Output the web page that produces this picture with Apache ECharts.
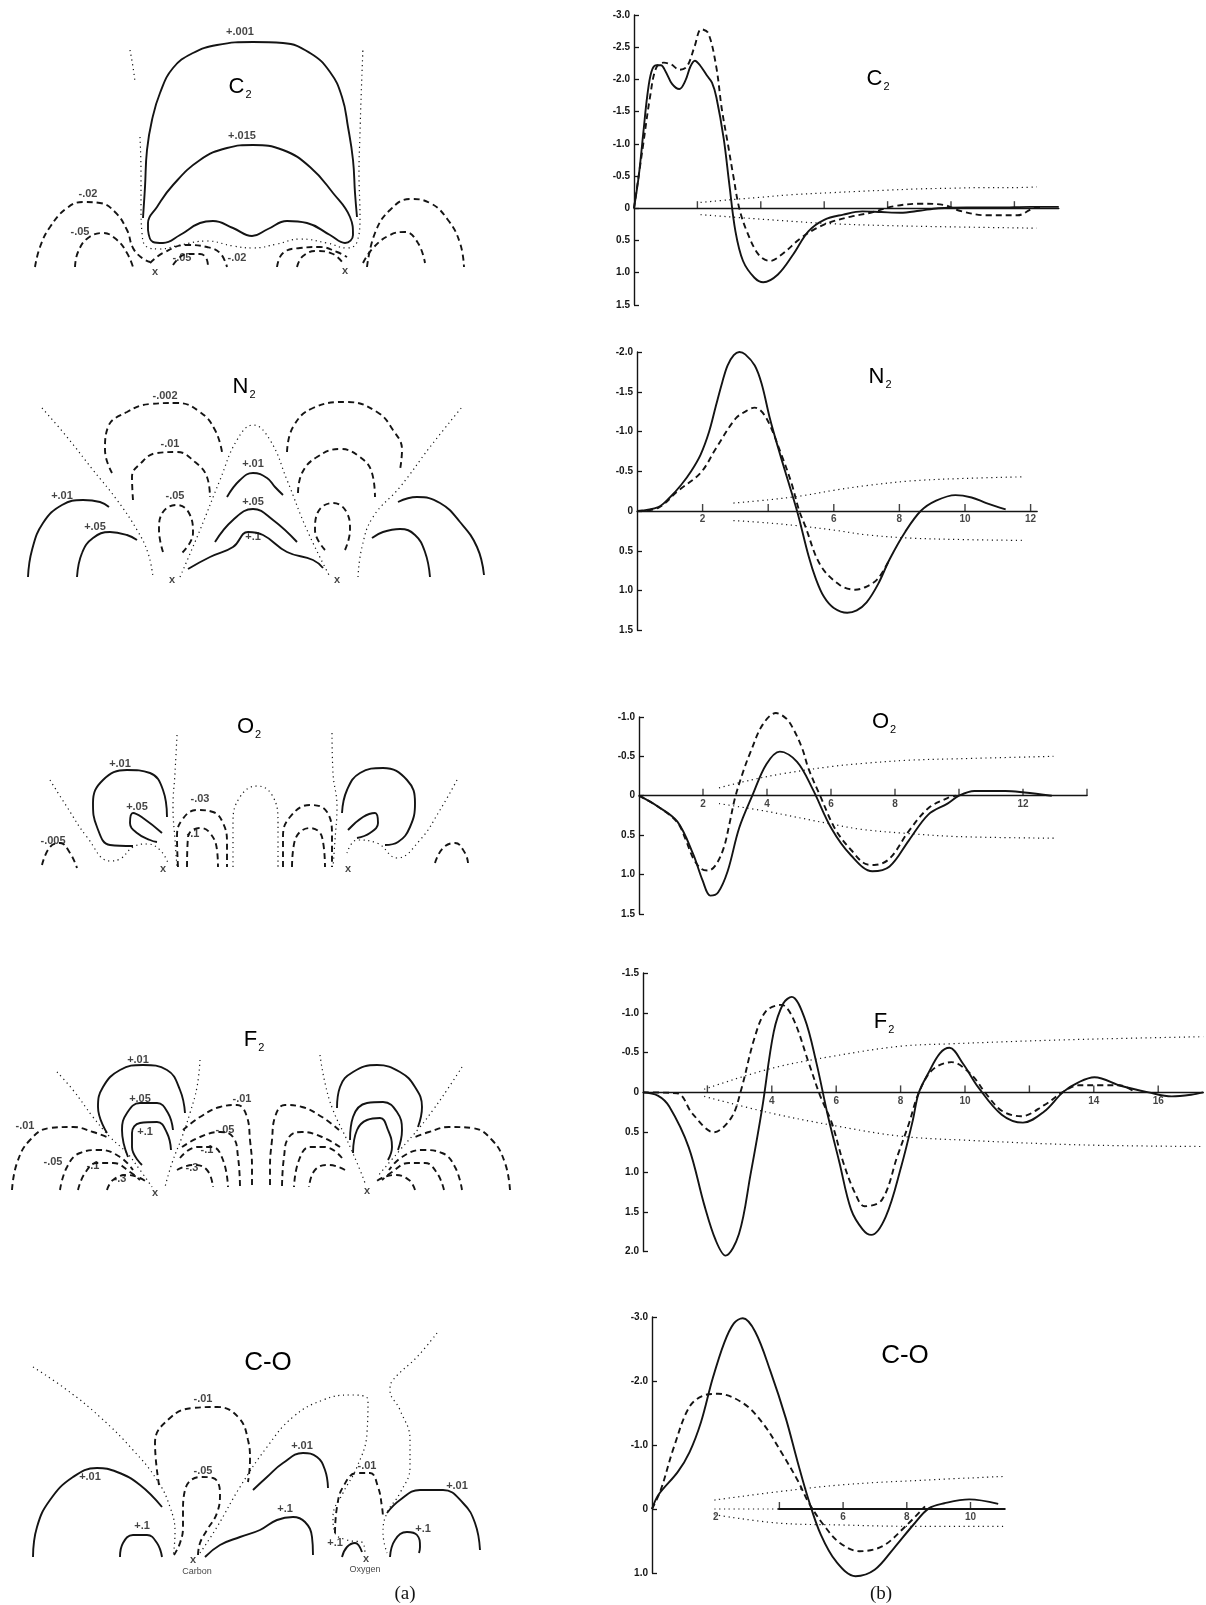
<!DOCTYPE html>
<html>
<head>
<meta charset="utf-8">
<title>Difference density maps and profiles: C2, N2, O2, F2, C-O</title>
<script src="https://cdn.jsdelivr.net/npm/echarts/dist/echarts.min.js"></script>
<style>
html, body { margin: 0; padding: 0; background: #fff; }
#main { width: 1206px; height: 1605px; }
</style>
</head>
<body>
<div id="main"></div>
<script>
// ---- (b) profiles along the bond axis: [r, density] ----
var c2Solid = [[0,0],[0.15,-0.5],[0.3,-1.2],[0.42,-1.75],[0.55,-2.12],[0.7,-2.22],[0.85,-2.22],[1.0,-2.12],[1.2,-1.93],[1.43,-1.85],[1.62,-1.98],[1.78,-2.2],[1.92,-2.29],[2.08,-2.22],[2.3,-2.06],[2.46,-1.95],[2.6,-1.72],[2.83,-1.08],[3.01,-0.36],[3.2,0.36],[3.44,0.82],[3.8,1.08],[4.08,1.15],[4.54,1.03],[5.02,0.72],[5.5,0.36],[6.0,0.18],[6.6,0.1],[7.2,0.05],[7.8,0.06],[8.4,0.07],[9.0,0.04],[9.6,0.0],[10.5,-0.01],[11.5,-0.01],[12.5,-0.02],[13.4,-0.02]];
var c2Dashed = [[0,0],[0.27,-0.92],[0.51,-1.74],[0.7,-2.18],[0.94,-2.26],[1.18,-2.23],[1.43,-2.15],[1.67,-2.2],[1.91,-2.51],[2.12,-2.78],[2.34,-2.72],[2.59,-2.21],[2.77,-1.54],[2.95,-1.03],[3.13,-0.51],[3.32,0],[3.56,0.36],[3.93,0.72],[4.29,0.82],[4.66,0.72],[5.27,0.46],[5.76,0.31],[6.24,0.21],[6.85,0.13],[7.46,0.07],[8.2,-0.03],[9.05,-0.07],[9.78,-0.05],[10.27,0.04],[11.12,0.11],[12.1,0.11],[12.6,0.0],[12.9,-0.02]];
var c2DotUpper = [[2.1,-0.09],[3,-0.13],[4,-0.17],[5,-0.21],[6.2,-0.24],[7,-0.26],[8,-0.28],[9,-0.3],[10,-0.31],[11,-0.32],[12,-0.32],[12.7,-0.33]];
var c2DotLower = [[2.1,0.1],[4,0.17],[6.2,0.24],[8,0.27],[10,0.29],[12.7,0.31]];

var n2Solid = [[0,0],[0.65,-0.05],[1.0,-0.17],[1.35,-0.33],[1.65,-0.5],[1.94,-0.71],[2.2,-1.0],[2.41,-1.33],[2.6,-1.62],[2.76,-1.83],[2.95,-1.96],[3.12,-2.0],[3.3,-1.97],[3.59,-1.83],[3.8,-1.6],[4.06,-1.15],[4.3,-0.8],[4.53,-0.48],[4.88,0.0],[5.24,0.58],[5.45,0.85],[5.7,1.08],[6.0,1.22],[6.41,1.28],[6.7,1.25],[7.0,1.15],[7.35,0.92],[7.71,0.6],[8.18,0.26],[8.65,0.0],[9.12,-0.13],[9.71,-0.2],[10.2,-0.17],[10.65,-0.1],[11.24,-0.02]];
var n2Dashed = [[0,0],[0.65,-0.04],[1.24,-0.25],[1.94,-0.48],[2.41,-0.79],[3.0,-1.16],[3.3,-1.25],[3.59,-1.3],[3.94,-1.17],[4.41,-0.7],[4.71,-0.35],[4.94,-0.01],[5.12,0.18],[5.59,0.68],[6.18,0.93],[6.65,0.99],[7.0,0.95],[7.35,0.85],[7.71,0.6]];
var n2DotUpper = [[2.94,-0.1],[4,-0.14],[5,-0.19],[6,-0.26],[7,-0.32],[8.4,-0.38],[10,-0.41],[11.8,-0.43]];
var n2DotLower = [[2.94,0.12],[4,0.15],[5,0.19],[6,0.24],[7,0.3],[8.3,0.34],[10,0.36],[11.8,0.37]];

var o2Solid = [[0,0],[0.6,0.14],[1.2,0.33],[1.69,0.74],[1.99,1.08],[2.23,1.27],[2.47,1.23],[2.77,0.96],[3.13,0.41],[3.55,-0.01],[3.98,-0.4],[4.4,-0.56],[4.94,-0.43],[5.42,-0.09],[6.02,0.42],[6.63,0.76],[7.29,0.96],[7.83,0.9],[8.43,0.57],[9.04,0.24],[9.64,0.1],[10.0,0.0],[10.48,-0.06],[11.45,-0.06],[12.05,-0.04],[12.9,0]];
var o2Dashed = [[0,0],[0.6,0.14],[1.2,0.34],[1.45,0.55],[1.7,0.8],[1.95,0.93],[2.17,0.95],[2.4,0.88],[2.65,0.66],[2.83,0.35],[3.0,0.03],[3.25,-0.3],[3.49,-0.56],[3.86,-0.9],[4.28,-1.05],[4.6,-0.98],[4.82,-0.85],[5.1,-0.6],[5.3,-0.34],[5.66,0.0],[6.14,0.43],[6.63,0.69],[7.1,0.87],[7.35,0.88],[7.83,0.8],[8.43,0.45],[9.04,0.16],[9.64,0.03],[9.9,0.0]];
var o2DotUpper = [[2.5,-0.1],[3.5,-0.2],[4.5,-0.28],[6,-0.37],[7,-0.41],[8.4,-0.45],[10,-0.47],[12.95,-0.5]];
var o2DotLower = [[2.5,0.1],[4,0.2],[6,0.36],[7,0.43],[8.4,0.48],[10,0.52],[13,0.54]];

var f2Solid = [[0,0],[0.46,0.04],[0.82,0.18],[1.42,0.69],[1.9,1.41],[2.26,1.86],[2.56,2.05],[2.98,1.78],[3.34,1.03],[3.7,0.2],[4.06,-0.76],[4.36,-1.12],[4.62,-1.2],[5.02,-0.93],[5.38,-0.38],[5.74,0.29],[6.1,0.88],[6.46,1.47],[6.82,1.72],[7.09,1.79],[7.54,1.56],[8.02,0.93],[8.38,0.35],[8.56,0.01],[8.86,-0.24],[9.22,-0.49],[9.52,-0.56],[9.94,-0.36],[10.42,-0.06],[11.14,0.28],[11.8,0.38],[12.46,0.24],[13.06,-0.01],[13.54,-0.13],[14.02,-0.19],[14.86,-0.08],[15.7,0.0],[16.42,0.05],[17.02,0.03],[17.4,0]];
var f2Dashed = [[0,0],[1.06,0.01],[1.54,0.27],[2.2,0.5],[2.74,0.32],[3.04,-0.02],[3.46,-0.68],[3.82,-1.02],[4.3,-1.1],[4.66,-0.93],[5.14,-0.38],[5.5,0.04],[5.86,0.38],[6.22,0.88],[6.58,1.26],[6.88,1.43],[7.42,1.35],[7.9,0.8],[8.26,0.39],[8.56,0.01],[8.98,-0.28],[9.58,-0.38],[10.18,-0.23],[10.66,0.02],[11.14,0.23],[11.74,0.3],[12.46,0.16],[13.06,-0.01],[13.54,-0.09],[14.26,-0.09],[14.8,-0.09],[15.22,-0.02]];
var f2DotUpper = [[1.9,-0.04],[3.97,-0.3],[5.98,-0.46],[7.99,-0.58],[9.52,-0.61],[13.06,-0.66],[17.4,-0.7]];
var f2DotLower = [[1.9,0.05],[3.97,0.26],[5.98,0.42],[7.99,0.55],[9.98,0.6],[13.66,0.66],[17.4,0.68]];

var coSolid = [[0,0],[0.2,-0.22],[0.81,-0.58],[1.18,-0.89],[1.54,-1.36],[1.9,-2.03],[2.27,-2.6],[2.57,-2.9],[2.85,-2.98],[3.24,-2.77],[3.72,-2.15],[4.2,-1.42],[4.57,-0.74],[4.93,-0.12],[5.3,0.4],[5.78,0.82],[6.39,1.05],[6.99,0.95],[7.6,0.61],[8.2,0.25],[8.69,-0.01],[9.18,-0.09],[9.96,-0.15],[10.87,-0.08]];
var coDashed = [[0,0],[0.27,-0.29],[0.69,-0.97],[1.18,-1.6],[1.66,-1.78],[2.08,-1.8],[2.87,-1.65],[3.48,-1.34],[4.08,-0.87],[4.57,-0.45],[4.93,-0.09],[5.42,0.27],[5.9,0.53],[6.51,0.66],[7.24,0.58],[7.96,0.27],[8.57,-0.04]];
var coDotUpper = [[1.96,-0.14],[3.96,-0.27],[6.02,-0.38],[8.5,-0.45],[11.1,-0.51]];
var coDotLower = [[1.96,0.09],[3.96,0.22],[6,0.25],[7.96,0.27],[11.1,0.27]];
var coAxisSolid = [[3.96,0],[11.1,0]];
var coAxisDotted = [[1.96,0],[3.96,0]];

// tick marks and labelled ticks on each r axis
var c2Ticks = [2, 4, 6, 8, 10, 12];
var c2TickLabels = [];
var n2Ticks = [2, 4, 6, 8, 10, 12];
var n2TickLabels = [2, 6, 8, 10, 12];
var o2Ticks = [2, 4, 6, 8, 10, 12, 14];
var o2TickLabels = [2, 4, 6, 8, 12];
var f2Ticks = [2, 4, 6, 8, 10, 12, 14, 16];
var f2TickLabels = [4, 6, 8, 10, 14, 16];
var coTicks = [4, 6, 8, 10];
var coTickLabels = [2, 6, 8, 10];

// ---- (a) contour maps, local coordinates (origin at bond midpoint, y up) ----
var c2Plus001 = [[-107,50],[-105,81],[-103,118],[-98,148],[-90,175],[-77,200],[-57,215],[-33,223],[3,226],[33,225],[60,215],[80,196],[92,171],[98,141],[103,108],[105,75],[107,51]];
var c2Plus015 = [[-102,38],[-97,26],[-87,25],[-70,33],[-50,45],[-37,47],[-17,40],[2,32],[18,39],[37,47],[57,45],[80,33],[95,25],[103,33],[100,51],[83,75],[60,101],[33,118],[3,123],[-23,120],[-50,108],[-77,83],[-93,61],[-102,45],[-102,38]];
var c2ZeroTop = [[-120,218],[-117,201],[-115,186]];
var c2Zero = [[-110,131],[-109,95],[-109,61],[-108,35],[-103,21],[-90,19],[-70,23],[-43,27],[-17,22],[3,20],[27,24],[50,29],[77,25],[97,20],[107,26],[110,51],[109,95],[110,135],[111,168],[113,221]];
var c2MinusL02 = [[-215,1],[-210,21],[-200,41],[-183,60],[-167,66],[-150,65],[-135,56],[-123,38],[-117,20],[-108,10],[-100,6]];
var c2MinusL05 = [[-175,1],[-172,16],[-162,30],[-147,35],[-133,28],[-123,15],[-117,1]];
var c2MinusC02L = [[-100,5],[-87,15],[-63,23],[-43,21],[-30,15],[-23,1]];
var c2MinusC05L = [[-77,3],[-63,14],[-50,14],[-43,8],[-42,1]];
var c2MinusC02R = [[27,1],[33,15],[50,20],[70,21],[87,16],[97,11]];
var c2MinusC05R = [[47,1],[53,12],[67,17],[83,14],[93,5]];
var c2MinusR02 = [[117,1],[125,35],[140,58],[160,69],[180,65],[198,48],[210,25],[214,1]];
var c2MinusR05 = [[113,5],[123,20],[140,33],[155,36],[168,25],[175,5]];
var c2Labels = [['+.001',-10,236],['+.015',-8,132],['-.02',-162,74],['-.05',-170,36],['-.05',-68,10],['-.02',-13,10],['x',-95,-4],['x',95,-3]];

var n2ZeroL = [[-213,169],[-188,140],[-162,107],[-138,77],[-118,47],[-107,24],[-102,0]];
var n2ZeroC = [[-75,0],[-55,47],[-35,97],[-18,137],[-2,152],[15,137],[32,97],[52,47],[75,0]];
var n2ZeroR = [[103,0],[107,30],[118,60],[145,90],[175,130],[207,170]];
var n2Minus002L = [[-143,104],[-150,127],[-147,150],[-128,165],[-105,173],[-78,174],[-55,165],[-40,147],[-33,125]];
var n2Minus002R = [[32,125],[38,150],[58,169],[92,175],[122,165],[138,147],[147,127],[145,107]];
var n2Minus01L = [[-122,77],[-123,100],[-115,113],[-98,124],[-78,125],[-60,115],[-48,100],[-45,80]];
var n2Minus01R = [[43,84],[47,104],[62,120],[85,128],[105,120],[117,104],[120,80]];
var n2Minus05L = [[-92,25],[-96,47],[-92,65],[-78,72],[-65,62],[-62,44],[-73,24]];
var n2Minus05R = [[70,27],[60,47],[63,65],[78,74],[92,64],[95,47],[90,27]];
var n2Plus01L = [[-227,0],[-223,27],[-212,54],[-193,72],[-172,77],[-155,75],[-146,70]];
var n2Plus05L = [[-178,0],[-173,24],[-162,39],[-145,45],[-128,42],[-118,37]];
var n2Plus01C = [[-28,80],[-15,97],[-2,104],[12,99],[20,90],[28,82]];
var n2Plus05C = [[-40,35],[-22,57],[-2,68],[18,57],[42,35]];
var n2Plus1C = [[-67,8],[-45,20],[-22,30],[-7,45],[8,42],[32,25],[58,17],[68,9]];
var n2Plus01R = [[143,75],[162,80],[185,74],[205,55],[222,30],[229,2]];
var n2Plus05R = [[117,39],[128,45],[145,48],[160,42],[170,25],[175,0]];
var n2Labels = [['-.002',-90,181],['-.01',-85,133],['+.01',-2,113],['-.05',-80,81],['+.05',-2,75],['+.1',-2,40],['+.01',-193,81],['+.05',-160,50],['x',-83,-3],['x',82,-3]];

var o2ZeroL = [[-206,87],[-189,60],[-169,30],[-146,6],[-136,8],[-123,20],[-109,23],[-96,17],[-88,4]];
var o2ZeroLV = [[-79,132],[-81,94],[-83,60],[-81,27],[-79,0]];
var o2ZeroC = [[-23,0],[-23,44],[-16,70],[1,81],[16,72],[22,44],[22,0]];
var o2ZeroRV = [[76,134],[77,94],[81,60],[79,27],[77,0]];
var o2ZeroR = [[201,87],[184,57],[164,27],[141,9],[121,24],[101,27],[91,14]];
var o2Plus01L = [[-89,50],[-93,77],[-106,94],[-129,97],[-153,87],[-163,64],[-159,40],[-146,22],[-123,21]];
var o2Plus05L = [[-94,34],[-113,49],[-123,54],[-126,44],[-119,34],[-106,27],[-99,25]];
var o2Plus01R = [[86,54],[91,77],[104,94],[127,99],[151,87],[159,64],[154,40],[142,25],[129,22]];
var o2Plus05R = [[92,37],[107,50],[119,54],[122,44],[114,34],[101,29]];
var o2Minus005L = [[-214,2],[-206,20],[-196,24],[-186,14],[-179,-1]];
var o2Minus03L = [[-78,0],[-79,30],[-74,47],[-59,57],[-43,55],[-33,44],[-29,24],[-29,0]];
var o2Minus1L = [[-69,0],[-68,30],[-56,39],[-46,34],[-39,17],[-38,0]];
var o2Minus03R = [[27,0],[27,30],[34,50],[54,62],[71,55],[76,30],[76,0]];
var o2Minus1R = [[36,0],[39,27],[54,39],[66,30],[69,0]];
var o2Minus005R = [[179,4],[187,19],[199,24],[209,14],[212,4]];
var o2Labels = [['+.01',-136,103],['+.05',-119,60],['-.03',-56,68],['-.1',-63,33],['-.005',-203,26],['x',-93,-2],['x',92,-2]];

var f2Plus01L = [[-154,57],[-163,83],[-158,103],[-141,120],[-118,125],[-94,120],[-81,100],[-76,77]];
var f2Plus05L = [[-133,33],[-139,60],[-134,77],[-121,87],[-104,87],[-93,77],[-88,60]];
var f2Plus1L = [[-119,25],[-129,43],[-129,57],[-121,67],[-104,68],[-94,57],[-90,40]];
var f2Plus01R = [[76,82],[79,103],[92,118],[116,125],[139,118],[154,103],[161,83],[157,63]];
var f2Plus05R = [[89,50],[92,73],[106,87],[122,88],[136,78],[141,60],[137,40]];
var f2Plus1R = [[92,37],[96,60],[106,70],[119,72],[127,60],[131,43],[127,30]];
var f2ZeroL = [[-204,118],[-188,100],[-168,73],[-151,53],[-134,37],[-121,20],[-109,3]];
var f2ZeroCL = [[-61,130],[-64,103],[-71,77],[-79,53],[-89,27],[-96,3]];
var f2ZeroCR = [[59,135],[64,107],[72,80],[86,50],[99,20],[104,7]];
var f2ZeroR = [[201,123],[186,100],[172,80],[159,63],[139,40],[116,13]];
var f2Minus01L = [[-249,0],[-244,27],[-231,50],[-211,62],[-188,63],[-168,58],[-154,53]];
var f2Minus05L = [[-201,0],[-194,23],[-181,37],[-161,40],[-141,33],[-128,20]];
var f2Minus1L = [[-183,0],[-176,17],[-164,27],[-148,27],[-131,18],[-121,10]];
var f2Minus3L = [[-154,0],[-148,10],[-134,15],[-121,12],[-113,7]];
var f2Minus01C = [[-78,60],[-61,73],[-41,83],[-24,85],[-14,73],[-11,50],[-9,23],[-9,3]];
var f2Minus05C = [[-79,43],[-61,53],[-41,58],[-28,53],[-23,33],[-21,3]];
var f2Minus1C = [[-81,32],[-64,43],[-49,43],[-38,30],[-33,3]];
var f2Minus3C = [[-84,20],[-68,25],[-54,20],[-48,3]];
var f2Labels = [['+.01',-123,130],['+.05',-121,91],['+.1',-116,58],['-.01',-236,64],['-.05',-208,28],['-.1',-168,24],['-.3',-141,11],['-.01',-19,91],['-.05',-36,60],['-.1',-54,40],['-.3',-69,22],['x',-106,-3],['x',106,-1]];

var coZeroL = [[-247,190],[-213,167],[-180,140],[-147,107],[-123,77],[-110,50],[-105,24],[-107,0]];
var coZeroC = [[-80,4],[-63,30],[-40,70],[-13,110],[13,140],[43,157],[70,162],[88,157],[87,124],[77,90],[63,64],[53,40],[55,24],[67,17],[83,14],[85,2]];
var coZeroR = [[157,224],[137,200],[113,177],[110,167],[120,147],[130,117],[130,90],[120,64],[107,44],[103,24],[107,4]];
var coPlus01L = [[-247,0],[-243,30],[-230,57],[-207,80],[-183,89],[-163,85],[-140,72],[-118,50]];
var coPlus1L = [[-160,0],[-157,14],[-147,22],[-133,22],[-123,14],[-118,0]];
var coPlus01C = [[-27,67],[-13,80],[3,94],[23,104],[37,100],[45,87],[48,69]];
var coPlus1C = [[-75,0],[-60,12],[-40,20],[-20,27],[-3,37],[13,40],[25,35],[32,20],[33,2]];
var coPlus1O = [[62,0],[67,10],[75,14],[82,5]];
var coPlus01R = [[107,44],[120,57],[140,67],[163,67],[183,54],[195,34],[200,7]];
var coPlus1R = [[110,0],[115,17],[127,25],[137,22],[140,10],[139,4]];
var coMinus01C = [[-121,72],[-125,114],[-110,139],[-87,149],[-63,150],[-42,140],[-32,117],[-30,97],[-32,75]];
var coMinus05 = [[-106,2],[-100,14],[-97,30],[-97,44],[-95,67],[-80,80],[-67,79],[-60,64],[-63,44],[-73,27],[-80,14],[-82,2]];
var coMinus01O = [[55,24],[57,50],[63,70],[77,84],[90,84],[98,70],[102,50],[103,40]];
var coLabels = [['-.01',-77,158],['+.01',-190,80],['-.05',-77,86],['+.01',22,111],['-.01',87,91],['+.01',177,71],['+.1',-138,31],['+.1',5,48],['+.1',55,14],['+.1',143,28],['x',-87,-3],['x',86,-2],['Carbon',-83,-15,9],['Oxygen',85,-13,9]];

// ---------------------------------------------------------------
var INK = '#141414';
var FONT = '"Liberation Sans", Arial, sans-serif';
var styles = {
    solid: { color: INK, width: 1.9, type: 'solid' },
    dashed: { color: INK, width: 1.9, type: [6, 4] },
    dotted: { color: INK, width: 1.2, type: [1.2, 3.6] }
};

var grids = [], xAxes = [], yAxes = [], series = [];

function mirror(pts) {
    return pts.map(function (p) { return [-p[0], p[1]]; });
}

function curve(i, data, kind, smooth) {
    return {
        type: 'line', xAxisIndex: i, yAxisIndex: i, data: data,
        smooth: smooth, symbol: 'none', clip: false, silent: true,
        lineStyle: styles[kind], animation: false
    };
}

function labelSeries(i, labels) {
    return {
        type: 'scatter', xAxisIndex: i, yAxisIndex: i, symbolSize: 1, clip: false, silent: true,
        itemStyle: { color: 'rgba(0,0,0,0)' }, animation: false,
        data: labels.map(function (l) {
            var d = { name: l[0], value: [l[1], l[2]] };
            if (l[3]) d.label = { fontSize: l[3], fontWeight: 'normal' };
            return d;
        }),
        label: {
            show: true, position: 'inside', color: INK, fontSize: 11, fontWeight: 'bold',
            fontFamily: FONT, formatter: function (p) { return p.name; }
        }
    };
}

// tick marks standing on the zero line, and their numbers underneath
function tickSeries(i, ticks, labels) {
    return [{
        type: 'scatter', xAxisIndex: i, yAxisIndex: i, silent: true, clip: false, animation: false,
        symbol: 'rect', symbolSize: [1.4, 7], symbolOffset: [0, -3.5],
        itemStyle: { color: INK },
        data: ticks.map(function (v) { return [v, 0]; })
    }, {
        type: 'scatter', xAxisIndex: i, yAxisIndex: i, silent: true, clip: false, animation: false,
        symbolSize: 1, itemStyle: { color: 'rgba(0,0,0,0)' },
        data: labels.map(function (v) { return { name: String(v), value: [v, 0] }; }),
        label: {
            show: true, position: 'bottom', distance: 3, color: INK, fontSize: 10,
            fontWeight: 'bold', fontFamily: FONT, formatter: function (p) { return p.name; }
        }
    }];
}

// left column: one hidden grid per map, 1 unit = 1 px
function addMap(cx, by, lines, labels) {
    var i = grids.length;
    grids.push({ left: cx - 250, top: by - 260, width: 500, height: 280 });
    xAxes.push({ gridIndex: i, type: 'value', min: -250, max: 250, show: false });
    yAxes.push({ gridIndex: i, type: 'value', min: -20, max: 260, show: false });
    lines.forEach(function (l) { series.push(curve(i, l[1], l[0], 0.45)); });
    series.push(labelSeries(i, labels));
}

// right column: one grid per profile
function addProfile(p) {
    var i = grids.length;
    grids.push({
        left: p.left, top: p.top,
        width: p.xMax * p.xScale, height: (p.yMax - p.yMin) * p.yScale
    });
    xAxes.push({
        gridIndex: i, type: 'value', min: 0, max: p.xMax, interval: 2,
        axisLine: { show: p.axisLine !== false, onZero: true, lineStyle: { color: INK, width: 1.4 } },
        axisTick: { show: false },
        axisLabel: { show: false },
        splitLine: { show: false }
    });
    yAxes.push({
        gridIndex: i, type: 'value', inverse: true, min: p.yMin, max: p.yMax, interval: p.yStep,
        axisLine: { show: true, onZero: true, lineStyle: { color: INK, width: 1.4 } },
        axisTick: { show: true, inside: true, length: 5, lineStyle: { color: INK, width: 1.3 } },
        axisLabel: {
            margin: 4, fontSize: 10, fontWeight: 'bold', color: INK, fontFamily: FONT,
            formatter: function (v) { return Math.abs(v) < 1e-9 ? '0' : v.toFixed(1); }
        },
        splitLine: { show: false }
    });
    p.lines.forEach(function (l) { series.push(curve(i, l[1], l[0], 0.35)); });
    tickSeries(i, p.ticks, p.tickLabels).forEach(function (s) { series.push(s); });
}

addMap(250, 268, [
    ['solid', c2Plus001], ['solid', c2Plus015],
    ['dotted', c2ZeroTop], ['dotted', c2Zero],
    ['dashed', c2MinusL02], ['dashed', c2MinusL05], ['dashed', c2MinusC02L], ['dashed', c2MinusC05L],
    ['dashed', c2MinusC02R], ['dashed', c2MinusC05R], ['dashed', c2MinusR02], ['dashed', c2MinusR05]
], c2Labels);

addMap(255, 577, [
    ['dotted', n2ZeroL], ['dotted', n2ZeroC], ['dotted', n2ZeroR],
    ['dashed', n2Minus002L], ['dashed', n2Minus002R], ['dashed', n2Minus01L], ['dashed', n2Minus01R],
    ['dashed', n2Minus05L], ['dashed', n2Minus05R],
    ['solid', n2Plus01L], ['solid', n2Plus05L], ['solid', n2Plus01C], ['solid', n2Plus05C],
    ['solid', n2Plus1C], ['solid', n2Plus01R], ['solid', n2Plus05R]
], n2Labels);

addMap(256, 867, [
    ['dotted', o2ZeroL], ['dotted', o2ZeroLV], ['dotted', o2ZeroC], ['dotted', o2ZeroRV], ['dotted', o2ZeroR],
    ['solid', o2Plus01L], ['solid', o2Plus05L], ['solid', o2Plus01R], ['solid', o2Plus05R],
    ['dashed', o2Minus005L], ['dashed', o2Minus03L], ['dashed', o2Minus1L],
    ['dashed', o2Minus03R], ['dashed', o2Minus1R], ['dashed', o2Minus005R]
], o2Labels);

var f2DashedLeft = [f2Minus01L, f2Minus05L, f2Minus1L, f2Minus3L, f2Minus01C, f2Minus05C, f2Minus1C, f2Minus3C];
var f2Lines = [
    ['solid', f2Plus01L], ['solid', f2Plus05L], ['solid', f2Plus1L],
    ['solid', f2Plus01R], ['solid', f2Plus05R], ['solid', f2Plus1R],
    ['dotted', f2ZeroL], ['dotted', f2ZeroCL], ['dotted', f2ZeroCR], ['dotted', f2ZeroR]
];
f2DashedLeft.forEach(function (c) {
    f2Lines.push(['dashed', c]);
    f2Lines.push(['dashed', mirror(c)]);
});
addMap(261, 1190, f2Lines, f2Labels);

addMap(280, 1557, [
    ['dotted', coZeroL], ['dotted', coZeroC], ['dotted', coZeroR],
    ['solid', coPlus01L], ['solid', coPlus1L], ['solid', coPlus01C], ['solid', coPlus1C],
    ['solid', coPlus1O], ['solid', coPlus01R], ['solid', coPlus1R],
    ['dashed', coMinus01C], ['dashed', coMinus05], ['dashed', coMinus01O]
], coLabels);

addProfile({ left: 634, top: 15, xMax: 13.4, xScale: 31.7, yMin: -3, yMax: 1.5, yStep: 0.5, yScale: 64.4,
    ticks: c2Ticks, tickLabels: c2TickLabels,
    lines: [['solid', c2Solid], ['dashed', c2Dashed], ['dotted', c2DotUpper], ['dotted', c2DotLower]] });
addProfile({ left: 637, top: 352, xMax: 12.2, xScale: 32.8, yMin: -2, yMax: 1.5, yStep: 0.5, yScale: 79.5,
    ticks: n2Ticks, tickLabels: n2TickLabels,
    lines: [['solid', n2Solid], ['dashed', n2Dashed], ['dotted', n2DotUpper], ['dotted', n2DotLower]] });
addProfile({ left: 639, top: 717, xMax: 14, xScale: 32.0, yMin: -1, yMax: 1.5, yStep: 0.5, yScale: 78.7,
    ticks: o2Ticks, tickLabels: o2TickLabels,
    lines: [['solid', o2Solid], ['dashed', o2Dashed], ['dotted', o2DotUpper], ['dotted', o2DotLower]] });
addProfile({ left: 643, top: 973, xMax: 17.4, xScale: 32.2, yMin: -1.5, yMax: 2, yStep: 0.5, yScale: 79.6,
    ticks: f2Ticks, tickLabels: f2TickLabels,
    lines: [['solid', f2Solid], ['dashed', f2Dashed], ['dotted', f2DotUpper], ['dotted', f2DotLower]] });
addProfile({ left: 652, top: 1317, xMax: 11.2, xScale: 31.85, yMin: -3, yMax: 1, yStep: 1, yScale: 64,
    ticks: coTicks, tickLabels: coTickLabels, axisLine: false,
    lines: [['solid', coSolid], ['dashed', coDashed], ['dotted', coDotUpper], ['dotted', coDotLower],
            ['solid', coAxisSolid], ['dotted', coAxisDotted]] });

// molecule names and panel letters
var rich = {
    m: { fontSize: 22, fontFamily: FONT, color: INK, verticalAlign: 'bottom', padding: [0, 0, 3, 0] },
    s: { fontSize: 11, fontFamily: FONT, color: INK, verticalAlign: 'bottom', padding: [0, 0, 0, 1] },
    w: { fontSize: 26, fontFamily: FONT, color: INK }
};
function name(x, y, text) {
    return { type: 'text', x: x, y: y, silent: true,
        style: { text: text, rich: rich, align: 'center', verticalAlign: 'middle' } };
}
var graphics = [
    name(240, 88, '{m|C}{s|2}'), name(878, 80, '{m|C}{s|2}'),
    name(244, 388, '{m|N}{s|2}'), name(880, 378, '{m|N}{s|2}'),
    name(249, 728, '{m|O}{s|2}'), name(884, 723, '{m|O}{s|2}'),
    name(254, 1041, '{m|F}{s|2}'), name(884, 1023, '{m|F}{s|2}'),
    name(268, 1363, '{w|C-O}'), name(905, 1356, '{w|C-O}'),
    { type: 'text', x: 405, y: 1594, silent: true,
      style: { text: '(a)', font: '19px "Liberation Serif", serif', fill: INK, align: 'center', verticalAlign: 'middle' } },
    { type: 'text', x: 881, y: 1594, silent: true,
      style: { text: '(b)', font: '19px "Liberation Serif", serif', fill: INK, align: 'center', verticalAlign: 'middle' } }
];

var chart = echarts.init(document.getElementById('main'));
chart.setOption({
    backgroundColor: '#fff',
    animation: false,
    grid: grids,
    xAxis: xAxes,
    yAxis: yAxes,
    series: series,
    graphic: graphics
});
</script>
</body>
</html>
